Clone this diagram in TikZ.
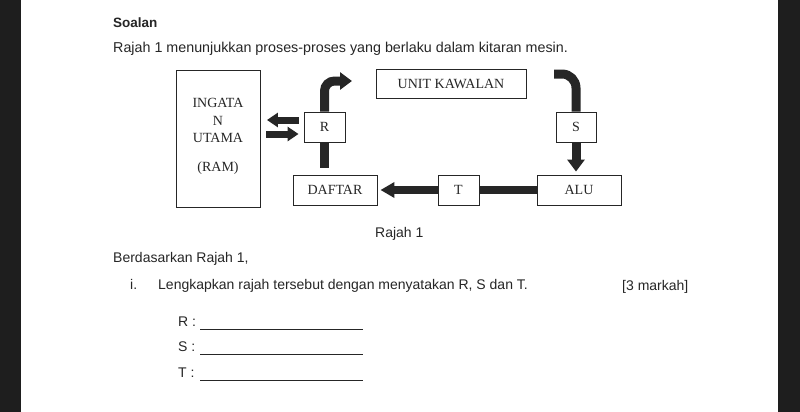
\documentclass[tikz,border=0pt]{standalone}
\usepackage{fontspec}
\setmainfont{Liberation Serif}
\newfontfamily\arialf{Liberation Sans}
\usetikzlibrary{arrows.meta}
\definecolor{bezel}{HTML}{1E1E1E}
\definecolor{ink}{HTML}{262626}
\begin{document}
\begin{tikzpicture}[x=1pt,y=-1pt,
  box/.style={draw=ink, line width=0.9pt, fill=white, inner sep=0pt,
    font=\fontsize{14}{16}\selectfont, text=ink, text height=9.3pt, text depth=0pt},
  qtext/.style={anchor=base west, inner sep=0pt, text=ink, font=\arialf\fontsize{14}{16}\selectfont},
  bar/.style={line width=9pt, ink},
  fatarrow/.style={bar, -{Triangle[width=17pt,length=12pt]}},
  thinarrow/.style={line width=7pt, ink, -{Triangle[width=14pt,length=11pt]}},
  blank/.style={line width=0.9pt, ink}
]
\useasboundingbox (0,0) rectangle (800,412);
\fill[white] (0,0) rectangle (800,412);
\fill[bezel] (0,0) rectangle (21,412);
\fill[bezel] (778,0) rectangle (800,412);

% question text
\node[qtext, font=\arialf\bfseries\fontsize{13.5}{16}\selectfont] (title) at (113,27.5) {Soalan};
\node[qtext, font=\arialf\fontsize{14.3}{16}\selectfont] (intro) at (113,52.5) {Rajah 1 menunjukkan proses-proses yang berlaku dalam kitaran mesin.};

% diagram boxes
\node[box, minimum width=84pt, minimum height=137pt] (ram) at (218,138.5) {};
\node[anchor=base, inner sep=0pt, align=center, text=ink,
  font=\fontsize{14}{17.5}\selectfont] (ramtext) at (218,171.5)
  {INGATA\\N\\UTAMA\\[11.5pt](RAM)};
\node[box, minimum width=41pt, minimum height=30pt] (r) at (324.5,127) {R};
\node[box, minimum width=40pt, minimum height=30pt] (s) at (576,127) {S};
\node[box, minimum width=41pt, minimum height=30pt] (t) at (458.5,190) {T};
\node[box, minimum width=84pt, minimum height=30pt] (daftar) at (335,190) {DAFTAR};
\node[box, minimum width=84pt, minimum height=30pt] (alu) at (579,190) {ALU};
\node[box, minimum width=150pt, minimum height=29pt] (unit) at (451,83.5) {UNIT KAWALAN};

\coordinate (rout) at (352,81);
\coordinate (sin) at (554,74);

% connectors
\draw[thinarrow, shorten <=5pt, shorten >=6.5pt] (r.west |- 0,120) -- (ram.east |- 0,120);
\draw[thinarrow, shorten <=6pt, shorten >=5pt] (ram.east |- 0,134) -- (r.west |- 0,134);
\draw[bar, shorten >=7pt] (r.south) -- (r.south |- daftar.north);
\draw[fatarrow, rounded corners=10pt] (r.north) |- (rout);
\draw[bar, rounded corners=14pt] (sin) -| (s.north);
\draw[fatarrow, shorten >=3pt] (s.south) -- (s.south |- alu.north);
\draw[line width=8pt, ink] (alu.west) -- (t.east);
\draw[line width=8pt, ink, -{Triangle[width=15pt,length=14pt]}, shorten >=3pt] (t.west) -- (daftar.east);

% lower text
\node[qtext] (cap) at (375,237.5) {Rajah 1};
\node[qtext] (berd) at (113,262.5) {Berdasarkan Rajah 1,};
\node[qtext] (item) at (130,289.5) {i.};
\node[qtext] (task) at (158,289.5) {Lengkapkan rajah tersebut dengan menyatakan R, S dan T.};
\node[qtext] (marks) at (622,290.5) {[3 markah]};
\node[qtext] (rl) at (178,326.5) {R :};
\node[qtext] (sl) at (178,351.5) {S :};
\node[qtext] (tl) at (178,377.5) {T :};
\draw[blank] (200,329) -- (363,329);
\draw[blank] (200,354) -- (363,354);
\draw[blank] (200,380) -- (363,380);
\end{tikzpicture}
\end{document}
